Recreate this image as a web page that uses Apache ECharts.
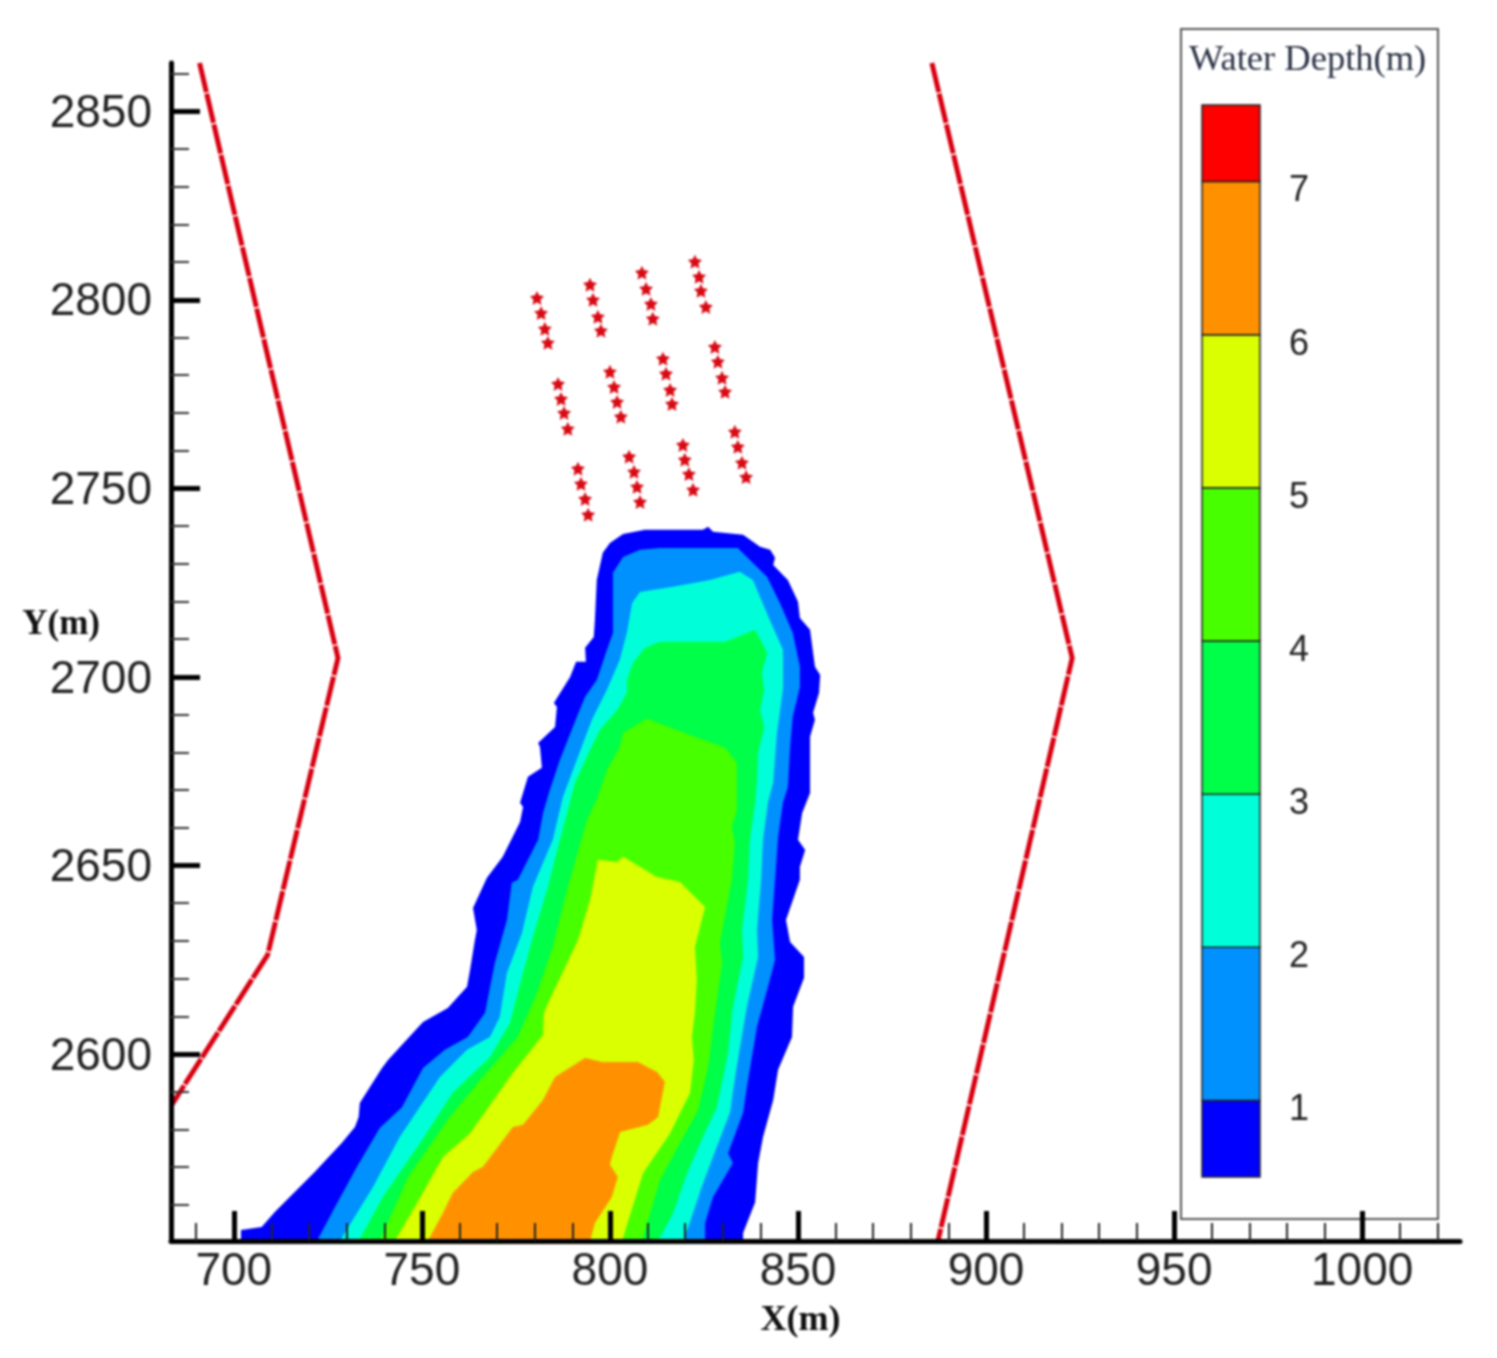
<!DOCTYPE html>
<html>
<head>
<meta charset="utf-8">
<style>
  html, body { margin: 0; padding: 0; background: #fff; }
  #main { width: 1497px; height: 1358px; }
  #main canvas { filter: blur(1px); }
</style>
<script src="https://cdn.jsdelivr.net/npm/echarts@6/dist/echarts.min.js"></script>
</head>
<body>
<div id="main"></div>
<script>
// axis ticks
var xMajorTicks = [700, 750, 800, 850, 900, 950, 1000];
var xMinorTicks = [690, 710, 720, 730, 740, 760, 770, 780, 790, 810, 820, 830, 840, 860, 870, 880, 890,
    910, 920, 930, 940, 960, 970, 980, 990, 1010, 1020];
var yMajorTicks = [2600, 2650, 2700, 2750, 2800, 2850];
var yMinorTicks = [2560, 2570, 2580, 2590, 2610, 2620, 2630, 2640, 2660, 2670, 2680, 2690,
    2710, 2720, 2730, 2740, 2760, 2770, 2780, 2790, 2810, 2820, 2830, 2840, 2860];

// legend
var legendLabels = [1, 2, 3, 4, 5, 6, 7];
var legendEdges = [0.5, 1, 2, 3, 4, 5, 6, 7, 7.5];
var legendColors = ['#0000ff', '#0091ff', '#00ffd9', '#00ff48', '#48ff00', '#d9ff00', '#ff9100', '#ff0000'];

// channel banks
var leftBank = [[690.9, 2862.8], [727.7, 2705.0], [709.0, 2626.3], [683.5, 2586.5]];
var rightBank = [[885.6, 2862.8], [922.9, 2705.0], [887.2, 2550.4]];

// sensors, four per row
var sensorX = [780.6, 781.7, 782.7, 783.5, 794.7, 795.5, 796.8, 797.6, 808.5, 809.6, 810.9, 811.4,
    822.6, 823.7, 824.2, 825.5, 786.2, 787.0, 787.8, 788.8, 800.0, 801.1, 801.9, 802.9,
    814.1, 814.9, 816.0, 816.5, 827.9, 828.7, 829.8, 830.6, 791.5, 792.3, 793.4, 794.2,
    805.1, 806.4, 807.2, 808.0, 819.4, 819.9, 821.0, 822.1, 833.2, 834.0, 835.1, 836.2];
var sensorY = [2800.5, 2796.5, 2792.3, 2788.6, 2804.0, 2800.0, 2795.5, 2791.8, 2807.2, 2802.9, 2798.9, 2795.0,
    2810.1, 2806.1, 2802.4, 2798.1, 2777.7, 2773.7, 2770.0, 2765.8, 2780.9, 2776.9, 2772.9, 2769.0,
    2784.4, 2780.4, 2776.1, 2772.4, 2787.5, 2783.6, 2779.3, 2775.6, 2755.2, 2751.2, 2747.2, 2743.0,
    2758.4, 2754.4, 2750.4, 2746.4, 2761.5, 2757.6, 2753.8, 2749.6, 2765.0, 2761.0, 2756.8, 2753.0];

// water depth contours, outer band first
var depth0 = [[701.9, 2550.4], [701.9, 2553.3], [707.4, 2554.1], [710.9, 2558.1], [721.5, 2568.7], [728.7, 2576.4],
    [732.2, 2580.6], [733.2, 2583.3], [733.5, 2587.0], [739.4, 2596.3], [741.0, 2598.4], [750.3, 2608.5],
    [756.9, 2612.2], [762.0, 2617.8], [762.8, 2622.3], [764.1, 2630.2], [764.6, 2632.9], [763.6, 2638.7],
    [767.3, 2646.7], [771.5, 2652.3], [776.1, 2661.5], [776.9, 2665.5], [776.1, 2666.6], [778.2, 2673.5],
    [781.9, 2675.9], [781.4, 2681.4], [780.9, 2682.5], [785.4, 2686.7], [785.9, 2692.0], [785.1, 2693.1],
    [789.4, 2700.0], [791.0, 2704.0], [793.6, 2704.0], [793.4, 2707.7], [795.7, 2710.6], [796.0, 2715.1],
    [796.5, 2725.7], [798.1, 2732.9], [800.0, 2735.5], [803.5, 2737.9], [809.3, 2739.0], [816.8, 2739.0],
    [824.7, 2739.0], [826.1, 2739.8], [827.4, 2738.5], [835.4, 2737.7], [839.9, 2734.5], [842.6, 2733.7],
    [843.9, 2731.6], [843.4, 2729.7], [847.3, 2725.7], [850.0, 2719.9], [850.5, 2715.6], [853.2, 2712.5],
    [854.5, 2702.7], [855.9, 2700.5], [855.6, 2695.8], [854.0, 2690.5], [854.5, 2688.6], [853.2, 2684.1],
    [853.2, 2669.2], [851.1, 2663.9], [850.0, 2656.8], [851.9, 2654.1], [850.5, 2649.6], [850.5, 2646.2],
    [846.8, 2635.5], [847.9, 2629.7], [851.6, 2625.7], [851.6, 2620.2], [848.7, 2612.5], [848.4, 2604.5],
    [844.7, 2595.8], [843.4, 2587.8], [840.7, 2578.0], [839.4, 2571.1], [838.6, 2560.7], [835.4, 2552.5],
    [835.4, 2550.4]];
var depth1 = [[722.1, 2550.4], [726.9, 2559.4], [732.7, 2570.0], [738.8, 2580.4], [744.7, 2585.9], [750.3, 2596.3],
    [756.1, 2601.1], [762.2, 2604.5], [766.8, 2610.9], [767.6, 2615.1], [769.4, 2624.1], [772.6, 2635.5],
    [773.9, 2645.4], [775.5, 2646.2], [780.9, 2656.8], [782.2, 2663.9], [784.0, 2670.0], [786.7, 2678.0],
    [791.2, 2689.4], [793.4, 2694.7], [796.5, 2699.2], [799.2, 2707.2], [800.8, 2711.7], [800.8, 2718.6],
    [800.8, 2727.6], [803.5, 2731.8], [808.0, 2733.7], [813.3, 2734.2], [834.0, 2734.2], [841.8, 2726.5],
    [845.2, 2719.6], [848.6, 2711.7], [850.5, 2702.7], [850.5, 2697.3], [848.6, 2689.4], [847.9, 2681.4],
    [847.3, 2670.8], [846.0, 2666.6], [844.7, 2657.6], [843.9, 2646.2], [843.1, 2635.5], [843.9, 2624.9],
    [841.8, 2617.0], [839.1, 2607.2], [836.4, 2591.2], [835.4, 2584.4], [831.4, 2573.7], [832.7, 2571.1],
    [827.4, 2562.1], [825.3, 2555.2], [825.3, 2550.4]];
var depth2 = [[728.2, 2550.4], [737.0, 2564.7], [744.1, 2578.0], [754.8, 2593.9], [762.0, 2601.1], [768.1, 2604.5],
    [770.7, 2609.8], [772.6, 2621.5], [776.6, 2632.1], [779.5, 2644.3], [784.8, 2656.8], [787.5, 2668.2],
    [791.2, 2678.0], [795.2, 2688.6], [799.2, 2696.6], [802.6, 2704.5], [804.5, 2711.7], [805.9, 2719.6],
    [808.0, 2722.5], [816.8, 2723.9], [826.6, 2725.7], [834.5, 2727.9], [838.0, 2725.7], [842.5, 2715.1],
    [846.0, 2707.2], [846.0, 2696.6], [844.4, 2685.1], [843.4, 2671.9], [842.0, 2666.6], [840.7, 2656.8],
    [840.2, 2646.2], [839.1, 2632.9], [839.4, 2625.7], [836.4, 2612.5], [833.7, 2596.6], [831.9, 2584.4],
    [828.4, 2575.3], [824.4, 2564.7], [821.2, 2555.2], [819.4, 2550.4]];
var depth3 = [[733.2, 2550.4], [739.6, 2562.1], [749.5, 2576.4], [758.2, 2589.7], [768.1, 2599.2], [773.4, 2608.2],
    [776.6, 2620.4], [779.5, 2631.0], [783.5, 2644.3], [786.7, 2656.8], [790.7, 2671.9], [794.7, 2680.6],
    [797.3, 2685.9], [801.9, 2691.2], [804.5, 2695.8], [804.5, 2699.2], [806.1, 2703.7], [809.3, 2707.7],
    [813.3, 2709.3], [830.6, 2709.3], [838.6, 2712.5], [841.8, 2706.4], [840.4, 2701.1], [841.0, 2696.6],
    [839.9, 2691.2], [841.0, 2686.7], [839.4, 2679.8], [839.1, 2672.7], [838.6, 2666.6], [837.2, 2656.8],
    [836.7, 2646.2], [835.1, 2632.9], [835.4, 2625.7], [832.7, 2612.5], [831.4, 2600.3], [828.4, 2585.9],
    [824.7, 2578.0], [820.5, 2568.4], [816.8, 2557.8], [812.8, 2550.4]];
var depth4 = [[738.8, 2550.4], [746.3, 2567.4], [757.4, 2583.3], [766.2, 2593.9], [775.5, 2604.5], [780.6, 2616.2],
    [784.8, 2628.4], [788.6, 2643.5], [793.9, 2662.1], [796.5, 2667.4], [799.2, 2675.3], [802.6, 2681.4],
    [803.5, 2685.1], [809.8, 2688.9], [823.4, 2683.8], [830.6, 2681.2], [833.7, 2677.2], [833.7, 2664.7],
    [832.4, 2660.2], [833.2, 2656.0], [832.4, 2646.2], [829.2, 2629.4], [829.8, 2624.1], [827.9, 2610.9],
    [826.1, 2596.6], [823.4, 2585.1], [818.6, 2576.4], [813.3, 2566.6], [808.5, 2550.4]];
var depth5 = [[742.8, 2550.4], [748.1, 2559.4], [755.6, 2572.7], [762.8, 2579.0], [774.2, 2595.0], [782.2, 2605.0],
    [782.4, 2610.9], [784.8, 2616.2], [791.5, 2630.2], [794.7, 2640.8], [796.8, 2651.5], [801.9, 2650.9],
    [803.5, 2652.3], [812.5, 2646.9], [818.6, 2645.6], [825.3, 2639.0], [822.6, 2628.4], [823.1, 2619.6],
    [822.6, 2610.9], [821.8, 2604.5], [822.3, 2598.4], [821.3, 2589.7], [816.0, 2579.0], [808.8, 2568.4],
    [803.2, 2550.4]];
var depth6 = [[751.6, 2550.4], [755.6, 2557.8], [758.2, 2563.1], [763.6, 2568.7], [766.2, 2570.0], [774.2, 2580.6],
    [776.9, 2581.2], [782.2, 2587.8], [785.4, 2593.9], [793.4, 2598.9], [797.9, 2597.9], [807.4, 2597.9],
    [812.5, 2595.2], [814.6, 2592.6], [812.8, 2583.3], [810.1, 2581.2], [802.7, 2579.3], [800.5, 2572.7],
    [800.0, 2570.6], [802.1, 2567.4], [800.5, 2562.1], [796.0, 2555.2], [794.7, 2550.4]];
var depthBands = [depth0, depth1, depth2, depth3, depth4, depth5, depth6];

var myChart = echarts.init(document.getElementById('main'));

function plainNumber(v) {
    return String(v);
}

function contourSeries(points, color) {
    return {
        type: 'custom',
        xAxisIndex: 0,
        yAxisIndex: 0,
        silent: true,
        z: 2,
        data: points,
        renderItem: function (params, api) {
            if (params.dataIndex !== 0) {
                return;
            }
            return {
                type: 'polygon',
                shape: { points: points.map(function (p) { return api.coord(p); }) },
                style: { fill: color }
            };
        }
    };
}

function bankSeries(points) {
    return {
        type: 'line',
        xAxisIndex: 0,
        yAxisIndex: 0,
        data: points,
        symbol: 'none',
        z: 3,
        lineStyle: { color: '#d80010', width: 5, type: [30, 1.5] }
    };
}

var legendData = legendColors.map(function (c, i) {
    return [legendEdges[i], legendEdges[i + 1], i];
});

var series = depthBands.map(function (band, i) {
    return contourSeries(band, legendColors[i]);
});
series.push(bankSeries(leftBank));
series.push(bankSeries(rightBank));
series.push({
    type: 'scatter',
    xAxisIndex: 0,
    yAxisIndex: 0,
    // fat star, the originals are blobby
    symbol: 'path://M12 0 L15.5 7.5 L24 9 L18 15 L19.5 24 L12 19.5 L4.5 24 L6 15 L0 9 L8.5 7.5 Z',
    symbolSize: 14,
    itemStyle: { color: '#d80a14', opacity: 1 },
    z: 3,
    data: sensorX.map(function (x, i) { return [x, sensorY[i]]; })
});
series.push({
    type: 'custom',
    xAxisIndex: 2,
    yAxisIndex: 2,
    silent: true,
    data: legendData,
    renderItem: function (params, api) {
        var top = api.coord([0, api.value(1)]);
        var bottom = api.coord([1, api.value(0)]);
        return {
            type: 'rect',
            shape: { x: top[0], y: top[1], width: bottom[0] - top[0], height: bottom[1] - top[1] },
            style: { fill: legendColors[api.value(2)], stroke: '#222', lineWidth: 1.5 }
        };
    }
});

var option = {
    animation: false,
    backgroundColor: '#fff',
    textStyle: { fontFamily: 'Liberation Sans' },
    title: {
        text: 'Water Depth(m)',
        left: 1184,
        top: 37,
        textStyle: { fontFamily: 'Liberation Serif', fontSize: 36.5, fontWeight: 'normal', color: '#2b3245' }
    },
    graphic: [{
        type: 'rect',
        z: -1,
        shape: { x: 1181, y: 29, width: 257, height: 1190 },
        style: { fill: 'none', stroke: '#555', lineWidth: 2 }
    }],
    grid: [
        { left: 171, top: 63, width: 1289, height: 1178 },
        { left: 1202, top: 105, width: 58, height: 1072 }
    ],
    xAxis: [{
        type: 'value',
        gridIndex: 0,
        position: 'bottom',
        min: 683.3,
        max: 1026,
        z: 10,
        name: 'X(m)',
        nameLocation: 'middle',
        nameGap: 62,
        nameMoveOverlap: false,
        nameTextStyle: {
            fontFamily: 'Liberation Serif', fontSize: 36, fontWeight: 'bold', color: '#111',
            padding: [0, 30, 0, 0]
        },
        axisLine: { onZero: false, lineStyle: { color: '#000', width: 5 } },
        axisTick: { inside: true, length: 30, customValues: xMajorTicks, lineStyle: { color: '#000', width: 5 } },
        axisLabel: { margin: 8, fontSize: 46, color: '#222', customValues: xMajorTicks, formatter: plainNumber },
        splitLine: { show: false }
    }, {
        type: 'value',
        gridIndex: 0,
        position: 'bottom',
        min: 683.3,
        max: 1026,
        z: 10,
        axisLine: { show: false, onZero: false },
        axisTick: { inside: true, length: 18, customValues: xMinorTicks, lineStyle: { color: '#222', width: 2 } },
        axisLabel: { show: false },
        splitLine: { show: false }
    }, {
        type: 'value',
        gridIndex: 1,
        min: 0,
        max: 1,
        show: false
    }],
    yAxis: [{
        type: 'value',
        gridIndex: 0,
        position: 'left',
        min: 2550.4,
        max: 2862.8,
        z: 10,
        name: 'Y(m)',
        nameLocation: 'middle',
        nameRotate: 0,
        nameGap: 71,
        nameMoveOverlap: false,
        nameTextStyle: {
            fontFamily: 'Liberation Serif', fontSize: 35, fontWeight: 'bold', color: '#111',
            verticalAlign: 'bottom',
            padding: [0, 0, 10, 0]
        },
        axisLine: { onZero: false, lineStyle: { color: '#000', width: 5 } },
        axisTick: { inside: true, length: 29, customValues: yMajorTicks, lineStyle: { color: '#000', width: 5 } },
        axisLabel: {
            margin: 19, fontSize: 46, color: '#222', customValues: yMajorTicks, formatter: plainNumber,
            verticalAlign: 'top', lineHeight: 6
        },
        splitLine: { show: false }
    }, {
        type: 'value',
        gridIndex: 0,
        position: 'left',
        min: 2550.4,
        max: 2862.8,
        z: 10,
        axisLine: { show: false, onZero: false },
        axisTick: { inside: true, length: 18, customValues: yMinorTicks, lineStyle: { color: '#333', width: 2 } },
        axisLabel: { show: false },
        splitLine: { show: false }
    }, {
        type: 'value',
        gridIndex: 1,
        position: 'right',
        min: 0.5,
        max: 7.5,
        axisLine: { show: false },
        axisTick: { show: false },
        axisLabel: {
            margin: 29, fontSize: 36, color: '#222', customValues: legendLabels,
            verticalAlign: 'top', lineHeight: 20
        },
        splitLine: { show: false }
    }],
    series: series
};

myChart.setOption(option);
</script>
</body>
</html>
